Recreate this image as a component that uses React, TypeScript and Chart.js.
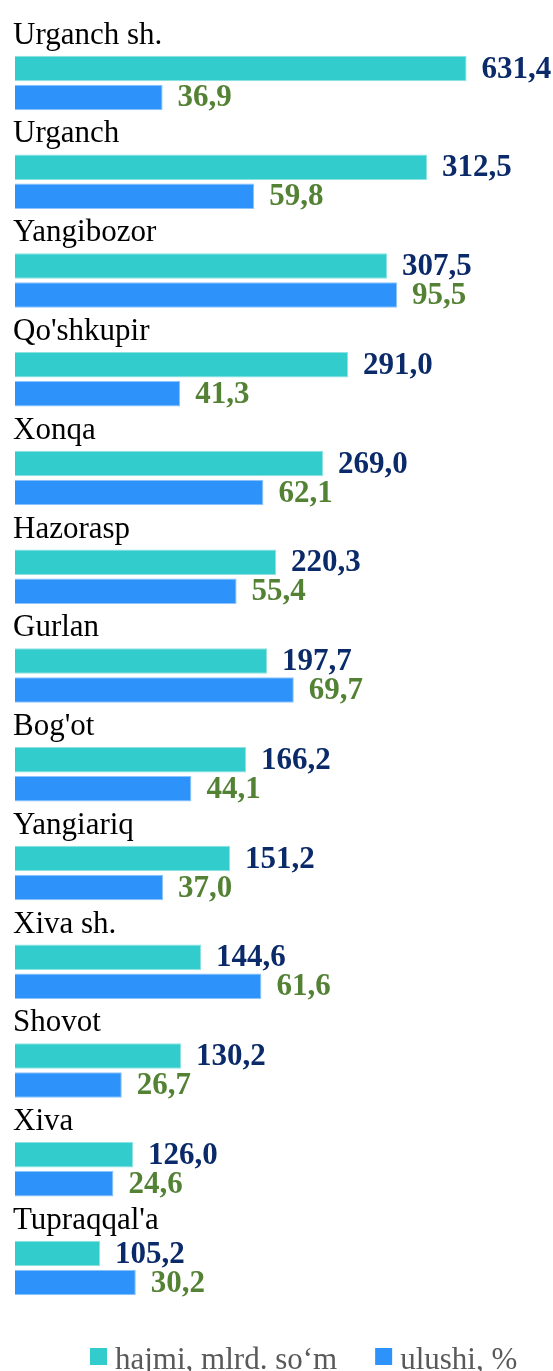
import React, { useEffect, useRef } from "react";
import { Chart, registerables } from "chart.js";

Chart.register(...registerables);

const categories = [
  "Urganch sh.",
  "Urganch",
  "Yangibozor",
  "Qo'shkupir",
  "Xonqa",
  "Hazorasp",
  "Gurlan",
  "Bog'ot",
  "Yangiariq",
  "Xiva sh.",
  "Shovot",
  "Xiva",
  "Tupraqqal'a",
];

// hajmi, mlrd. so'm — the value labels
const hajmi = [631.4, 312.5, 307.5, 291.0, 269.0, 220.3, 197.7, 166.2, 151.2, 144.6, 130.2, 126.0, 105.2];

// length of the teal bars as drawn in the source picture (same axis units as ulushi;
// the source does not draw them proportional to their labels)
const hajmiBar = [112.9, 103, 93, 83.25, 77, 65.25, 63, 57.75, 53.75, 46.5, 41.5, 29.5, 21.25];

// ulushi, %
const ulushi = [36.9, 59.8, 95.5, 41.3, 62.1, 55.4, 69.7, 44.1, 37.0, 61.6, 26.7, 24.6, 30.2];

const seriesNames = ["hajmi, mlrd. so\u2018m", "ulushi, %"];

const barColors = ["#33CCCC", "#2D93FA"];
const barBorders = ["#8EE2E2", "#8DC4FC"];
const valueColors = ["#0B2A69", "#548235"];

const fmt = (v: number) => v.toFixed(1).replace(".", ",");

const SERIF = "'Liberation Serif', 'Times New Roman', serif";

const labelPlugin = {
  id: "customLabels",
  afterDatasetsDraw(chart: any) {
    const ctx: CanvasRenderingContext2D = chart.ctx;
    ctx.save();

    // category names above each group
    ctx.font = `31px ${SERIF}`;
    ctx.fillStyle = "#000000";
    ctx.textAlign = "left";
    ctx.textBaseline = "alphabetic";
    chart.getDatasetMeta(0).data.forEach((el: any, i: number) => {
      const p = el.getProps(["y", "height"], true);
      const top = p.y - p.height / 2;
      ctx.fillText(categories[i], 13, top - 12);
    });

    // value labels
    const texts = [hajmi.map(fmt), ulushi.map(fmt)];
    ctx.font = `bold 31px ${SERIF}`;
    ctx.textBaseline = "middle";
    [0, 1].forEach((d) => {
      ctx.fillStyle = valueColors[d];
      chart.getDatasetMeta(d).data.forEach((el: any, i: number) => {
        const p = el.getProps(["x", "y"], true);
        ctx.fillText(texts[d][i], p.x + 15, p.y + 1);
      });
    });

    // legend
    ctx.font = `31px ${SERIF}`;
    ctx.textBaseline = "alphabetic";
    let x = 90;
    seriesNames.forEach((name, d) => {
      ctx.fillStyle = barColors[d];
      ctx.fillRect(x, 1348, 17, 17);
      x += 17 + 8;
      ctx.fillStyle = "#595959";
      ctx.fillText(name, x, 1369);
      x += ctx.measureText(name).width + 38;
    });

    ctx.restore();
  },
};

export default function App() {
  const canvasRef = useRef<HTMLCanvasElement | null>(null);

  useEffect(() => {
    if (!canvasRef.current) return;
    const chart = new Chart(canvasRef.current, {
      type: "bar",
      data: {
        labels: categories,
        datasets: [
          {
            label: seriesNames[0],
            data: hajmiBar,
            backgroundColor: barColors[0],
            borderColor: barBorders[0],
            borderWidth: 1,
            categoryPercentage: 0.587,
            barPercentage: 0.88,
          },
          {
            label: seriesNames[1],
            data: ulushi,
            backgroundColor: barColors[1],
            borderColor: barBorders[1],
            borderWidth: 1,
            categoryPercentage: 0.587,
            barPercentage: 0.88,
          },
        ],
      },
      options: {
        indexAxis: "y",
        responsive: false,
        animation: false,
        layout: { padding: { left: 15, right: 18, top: 33.6, bottom: 53.6 } },
        scales: {
          x: { display: false, min: 0, max: 130 },
          y: { display: false },
        },
        plugins: {
          legend: { display: false },
          tooltip: { enabled: false },
        },
      },
      plugins: [labelPlugin],
    } as any);
    return () => chart.destroy();
  }, []);

  return (
    <div style={{ position: "absolute", left: 0, top: 0, width: 553, height: 1371, background: "#ffffff" }}>
      <canvas ref={canvasRef} width={553} height={1371} style={{ display: "block" }} />
    </div>
  );
}
